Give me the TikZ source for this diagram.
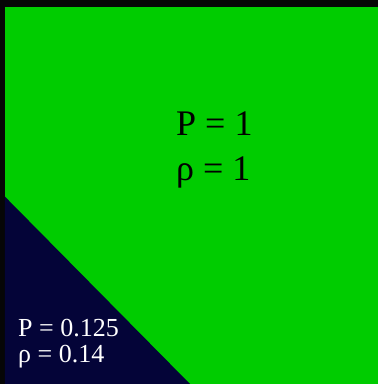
\documentclass[tikz,border=0pt]{standalone}
\usepackage{fontspec}
\setmainfont{Liberation Serif}
\definecolor{bgblack}{RGB}{6,6,6}
\definecolor{fieldgreen}{RGB}{0,204,0}
\definecolor{navy}{RGB}{4,4,56}
\tikzset{
  bigtext/.style={anchor=base west, inner sep=0pt, text=black, font=\fontsize{36}{44}\selectfont},
  smalltext/.style={anchor=base west, inner sep=0pt, text=white, font=\fontsize{26}{27}\selectfont}
}
\begin{document}
\begin{tikzpicture}[x=1pt,y=1pt]
  \useasboundingbox (0,0) rectangle (378,384);
  \fill[bgblack] (0,0) rectangle (378,384);
  \fill[fieldgreen] (5,0) rectangle (378,377);
  \fill[navy] (5,187.3) -- (5,0) -- (190,0) -- cycle;
  \node[bigtext] (p1) at (176,248) {P = 1};
  \node[bigtext] (r1) at (176,204) {ρ = 1};
  \node[smalltext] (p2) at (18,48) {P = 0.125};
  \node[smalltext] (r2) at (18,21) {ρ = 0.14};
\end{tikzpicture}
\end{document}
